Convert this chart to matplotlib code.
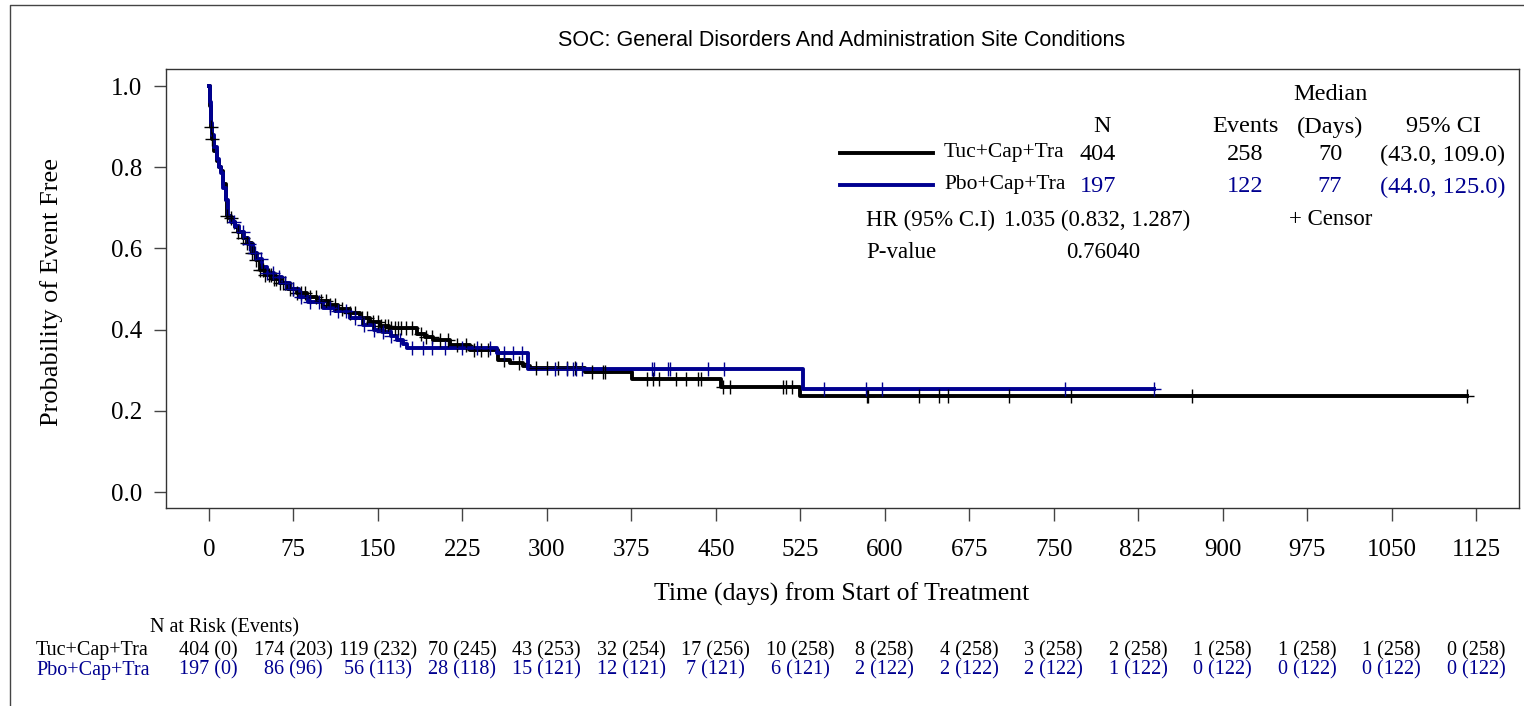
import numpy as np
import matplotlib
matplotlib.use('Agg')
import matplotlib.pyplot as plt
from matplotlib.lines import Line2D

# Kaplan-Meier steps (days, probability event free)
tuc_time = [0, 1, 2, 3, 5, 7, 9, 11, 13, 15, 16, 18, 21, 23, 26, 30, 34, 38, 42, 45,
            50, 56, 63, 70, 78, 87, 96, 107, 115, 125, 134, 143, 152, 160, 185, 192,
            199, 214, 232, 257, 267, 279, 285, 334, 376, 455, 525]
tuc_surv = [1.0, 0.95, 0.90, 0.87, 0.84, 0.815, 0.80, 0.79, 0.76, 0.72, 0.68, 0.675,
            0.665, 0.653, 0.64, 0.625, 0.613, 0.59, 0.571, 0.547, 0.535, 0.525, 0.515,
            0.50, 0.49, 0.48, 0.47, 0.46, 0.45, 0.44, 0.429, 0.42, 0.41, 0.404, 0.39,
            0.382, 0.374, 0.362, 0.35, 0.325, 0.318, 0.31, 0.305, 0.296, 0.278, 0.259,
            0.236]
tuc_last = 1117

pbo_time = [0, 1, 2, 3, 5, 7, 9, 11, 13, 15, 17, 20, 23, 27, 31, 35, 39, 43, 47, 52,
            58, 65, 72, 80, 88, 101, 112, 125, 137, 147, 155, 162, 167, 172, 176, 256,
            283, 527]
pbo_surv = [1.0, 0.96, 0.91, 0.88, 0.85, 0.82, 0.80, 0.785, 0.75, 0.72, 0.68, 0.665,
            0.655, 0.64, 0.625, 0.61, 0.59, 0.575, 0.555, 0.54, 0.53, 0.515, 0.50, 0.48,
            0.468, 0.453, 0.445, 0.429, 0.411, 0.40, 0.394, 0.385, 0.374, 0.365, 0.355,
            0.343, 0.303, 0.254]
pbo_last = 839

# censored times
tuc_cens = [2, 3, 16, 20, 26, 30, 34, 38, 40, 42, 45, 48, 50, 53, 55, 58, 60, 63, 66,
            68, 72, 75, 78, 82, 85, 90, 95, 100, 104, 108, 112, 118, 125, 130, 136, 140,
            146, 150, 153, 156, 159, 162, 165, 168, 171, 175, 180, 188, 193, 198, 205,
            212, 220, 228, 235, 242, 248, 262, 275, 290, 300, 310, 318, 325, 340, 350,
            352, 389, 394, 400, 415, 424, 434, 437, 456, 463, 510, 512, 518, 584, 585,
            630, 648, 656, 710, 765, 873, 1117]
pbo_cens = [22, 30, 36, 41, 46, 52, 57, 62, 68, 75, 82, 90, 98, 108, 115, 122, 130, 138,
            147, 155, 162, 170, 180, 190, 198, 210, 225, 238, 250, 262, 270, 278, 307,
            318, 323, 326, 331, 393, 395, 408, 409, 443, 457, 546, 583, 598, 760, 839]

xticks = list(range(0, 1126, 75))
tuc_risk = ['404 (0)', '174 (203)', '119 (232)', '70 (245)', '43 (253)', '32 (254)',
            '17 (256)', '10 (258)', '8 (258)', '4 (258)', '3 (258)', '2 (258)',
            '1 (258)', '1 (258)', '1 (258)', '0 (258)']
pbo_risk = ['197 (0)', '86 (96)', '56 (113)', '28 (118)', '15 (121)', '12 (121)',
            '7 (121)', '6 (121)', '2 (122)', '2 (122)', '2 (122)', '1 (122)',
            '0 (122)', '0 (122)', '0 (122)', '0 (122)']

BLK = 'black'
BLU = '#000090'
W, H = 1524, 706
SERIF = 'Liberation Serif'


def fx(px):
    return px / W


def fy(py):
    return 1 - py / H


def surv_at(times, surv, t):
    i = np.searchsorted(times, t, side='right') - 1
    return np.array(surv)[i]


fig = plt.figure(figsize=(W / 100, H / 100), dpi=100)
ax = fig.add_axes([fx(166), fy(508), fx(1519) - fx(166), fy(69) - fy(508)])

for times, surv, last, cens, col in [(tuc_time, tuc_surv, tuc_last, tuc_cens, BLK),
                                     (pbo_time, pbo_surv, pbo_last, pbo_cens, BLU)]:
    tt = list(times) + [last]
    ss = list(surv) + [surv[-1]]
    ax.plot(tt, ss, drawstyle='steps-post', color=col, lw=2.8, zorder=3)
    ax.plot(cens, surv_at(times, surv, cens), ls='none', marker='+', ms=10,
            mew=1.0, color=col, zorder=4)

ax.set_xlim(-38, 1163)
ax.set_ylim(-0.039, 1.042)
ax.set_xticks(xticks)
ax.set_yticks([0.0, 0.2, 0.4, 0.6, 0.8, 1.0])
ax.set_yticklabels(['%.1f' % v for v in [0.0, 0.2, 0.4, 0.6, 0.8, 1.0]])
ax.tick_params(length=9, width=1, color='#444444', labelsize=18)
ax.tick_params(axis='x', pad=13)
ax.tick_params(axis='y', pad=8)
for lab in ax.get_xticklabels() + ax.get_yticklabels():
    lab.set_fontfamily(SERIF)
for sp in ax.spines.values():
    sp.set_color('#333333')
    sp.set_linewidth(1)

fig.text(fx(52), fy(292), 'Probability of Event Free', rotation=90, ha='center',
         va='center', fontsize=19, family=SERIF)
fig.text(fx(842), fy(594), 'Time (days) from Start of Treatment', ha='center',
         va='center', fontsize=18.5, family=SERIF)
fig.text(fx(842), fy(41), 'SOC: General Disorders And Administration Site Conditions',
         ha='center', va='center', fontsize=15.5, family='Liberation Sans')

# legend / summary block
lf = dict(family=SERIF, va='center')
fig.text(fx(1330), fy(95), 'Median', ha='center', fontsize=17.5, **lf)
for x, s in [(1102, 'N'), (1245, 'Events'), (1330, '(Days)'), (1443, '95% CI')]:
    fig.text(fx(x), fy(127), s, ha='center', fontsize=17.5, **lf)
rows = [(155, BLK, 'Tuc+Cap+Tra', '404', '258', '70', '(43.0, 109.0)'),
        (187, BLU, 'Pbo+Cap+Tra', '197', '122', '77', '(44.0, 125.0)')]
for y, col, name, n, ev, med, ci in rows:
    fig.add_artist(Line2D([fx(840), fx(933)], [fy(y - 2), fy(y - 2)], color=col, lw=2.8))
    fig.text(fx(944), fy(y - 2), name, ha='left', fontsize=15.5, color=BLK, **lf)
    fig.text(fx(1098), fy(y), n, ha='center', fontsize=17.5, color=col, **lf)
    fig.text(fx(1245), fy(y), ev, ha='center', fontsize=17.5, color=col, **lf)
    fig.text(fx(1330), fy(y), med, ha='center', fontsize=17.5, color=col, **lf)
    fig.text(fx(1443), fy(y), ci, ha='center', fontsize=17.5, color=col, **lf)
fig.text(fx(866), fy(220), 'HR (95% C.I)', ha='left', fontsize=16.5, **lf)
fig.text(fx(1004), fy(220), '1.035 (0.832, 1.287)', ha='left', fontsize=16.5, **lf)
fig.text(fx(1331), fy(220), '+ Censor', ha='center', fontsize=16.5, **lf)
fig.text(fx(866), fy(253), 'P-value', ha='left', fontsize=16.5, **lf)
fig.text(fx(1103), fy(253), '0.76040', ha='center', fontsize=16.5, **lf)

# number at risk table
rf = 14.5
fig.text(fx(150), fy(628), 'N at Risk (Events)', ha='left', fontsize=rf, **lf)
fig.text(fx(36), fy(651), 'Tuc+Cap+Tra', ha='left', fontsize=rf, color=BLK, **lf)
fig.text(fx(36), fy(670), 'Pbo+Cap+Tra', ha='left', fontsize=rf, color=BLU, **lf)
for t, a, b in zip(xticks, tuc_risk, pbo_risk):
    xd = ax.transData.transform((t, 0))[0]
    xf = fig.transFigure.inverted().transform((xd, 0))[0]
    fig.text(xf, fy(651), a, ha='center', fontsize=rf, color=BLK, **lf)
    fig.text(xf, fy(670), b, ha='center', fontsize=rf, color=BLU, **lf)

# outer frame (left and top edges)
fig.add_artist(Line2D([fx(10), fx(10), 1], [0, fy(5), fy(5)], color='#444444', lw=1))

fig.savefig('out.png', dpi=100)
